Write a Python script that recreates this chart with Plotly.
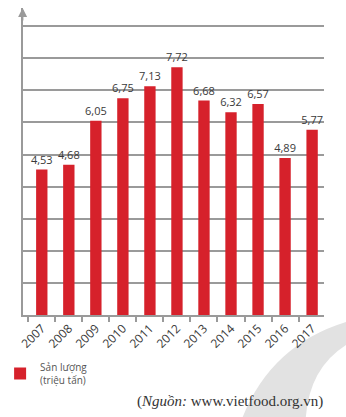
import plotly.graph_objects as go

# Rice output of Viet Nam, 2007-2017
years = ["2007", "2008", "2009", "2010", "2011", "2012", "2013", "2014", "2015", "2016", "2017"]
output_mt = [4.53, 4.68, 6.05, 6.75, 7.13, 7.72, 6.68, 6.32, 6.57, 4.89, 5.77]
value_labels = [f"{v:.2f}".replace(".", ",") for v in output_mt]

W, H = 346, 417
RED = "#d6212b"
GRID = "#9a9a9a"
TXT = "#3a3a3a"

fig = go.Figure()
fig.add_trace(go.Bar(
    x=years,
    y=output_mt,
    name="Sản lượng<br>(triệu tấn)",
    marker=dict(color=RED, line=dict(width=0)),
    text=value_labels,
    textposition="outside",
    constraintext="none",
    textfont=dict(family="Open Sans", size=11, color=TXT),
    cliponaxis=False,
    width=0.42,
))

# plot-area geometry in pixels
x_left, x_right = 8, 323
y_base, y_top = 315, 8
px_per_unit = 32.1

fig.update_layout(
    width=W, height=H,
    margin=dict(l=0, r=0, t=0, b=0),
    paper_bgcolor="white",
    plot_bgcolor="rgba(0,0,0,0)",
    showlegend=True,
    legend=dict(
        x=-0.045, y=(H - 354) / H, xanchor="left", yanchor="top",
        font=dict(family="Open Sans", size=10, color="#555555"),
        bgcolor="rgba(0,0,0,0)",
        tracegroupgap=0,
    ),
    xaxis=dict(
        domain=[x_left / W, x_right / W],
        range=[-0.708, 10.44],
        type="category",
        showline=True, linecolor=GRID, linewidth=1.5,
        ticks="outside", tickson="boundaries", ticklen=5,
        tickcolor=GRID, tickwidth=1.5,
        tickangle=-45,
        tickfont=dict(family="Open Sans", size=12, color=TXT),
        showgrid=False,
        fixedrange=True,
    ),
    yaxis=dict(
        domain=[(H - y_base) / H, (H - y_top) / H],
        range=[0, (y_base - y_top) / px_per_unit],
        dtick=1, tick0=0,
        showgrid=True, gridcolor=GRID, gridwidth=1.5,
        showline=True, linecolor=GRID, linewidth=1.5,
        showticklabels=False, ticks="",
        zeroline=False,
        fixedrange=True,
    ),
    font=dict(family="Open Sans"),
)


def px(x, y):
    return f"{x / W:.4f},{(H - y) / H:.4f}"


# faint decorative swoosh in the lower-right corner
fig.add_shape(
    type="path", xref="paper", yref="paper", layer="below",
    path=(f"M{px(238, 417)} Q{px(268, 345)} {px(346, 322)} "
          f"L{px(346, 345)} Q{px(308, 368)} {px(304, 417)} Z"),
    fillcolor="#e2e2e2", opacity=1, line=dict(width=0),
)

# arrow head on top of the vertical axis
fig.add_annotation(
    xref="paper", yref="paper",
    x=x_left / W, y=(H - y_top) / H,
    ax=0, ay=14, axref="pixel", ayref="pixel",
    text="", showarrow=True,
    arrowhead=2, arrowsize=1.2, arrowwidth=1.5, arrowcolor=GRID,
)

# data source
fig.add_annotation(
    xref="paper", yref="paper",
    x=324 / W, y=(H - 401) / H, xanchor="right", yanchor="middle",
    text="(<i>Nguồn:</i> www.vietfood.org.vn)",
    showarrow=False,
    font=dict(family="Liberation Serif", size=15, color="#333333"),
)

fig.write_html("out.html")
